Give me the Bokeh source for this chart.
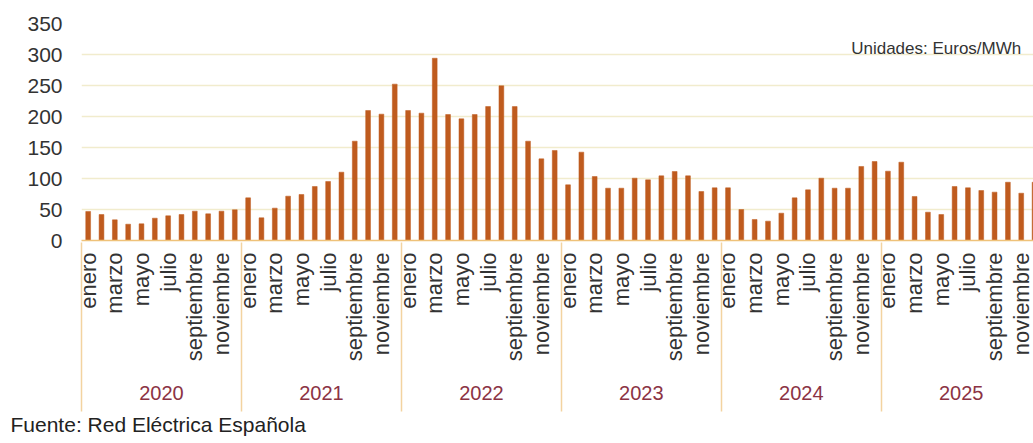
import math
from bokeh.plotting import figure
from bokeh.models import Range1d, FixedTicker, LinearAxis, Label, Title, ColumnDataSource
from bokeh.embed import file_html
from bokeh.resources import INLINE

# ---------------- data ----------------
years = ["2020", "2021", "2022", "2023", "2024", "2025"]
month_names = ["enero", "febrero", "marzo", "abril", "mayo", "junio", "julio",
               "agosto", "septiembre", "octubre", "noviembre", "diciembre"]
prices_2020 = [46.8, 41.9, 33.3, 26.3, 26.9, 36.0, 39.8, 41.9, 47.3, 43.0, 47.3, 49.5]
prices_2021 = [68.8, 36.6, 52.2, 71.5, 74.2, 87.1, 95.2, 110.2, 160.2, 209.7, 203.8, 252.2]
prices_2022 = [209.7, 205.4, 294.0, 203.2, 196.2, 203.2, 216.1, 249.5, 216.0, 160.2, 131.7, 145.2]
prices_2023 = [89.8, 142.5, 103.2, 84.4, 84.4, 100.5, 97.8, 104.3, 111.3, 104.3, 79.0, 85.0]
prices_2024 = [85.0, 50.0, 33.9, 31.2, 44.1, 68.8, 81.7, 100.5, 84.4, 84.4, 119.4, 127.4]
prices_2025 = [111.8, 126.3, 71.0, 45.7, 41.9, 87.1, 85.0, 80.6, 78.0, 94.0, 76.3, 94.0]
y_ticks = [0, 50, 100, 150, 200, 250, 300, 350]
unit_note = "Unidades: Euros/MWh"
source_note = "Fuente: Red Eléctrica Española"

prices = prices_2020 + prices_2021 + prices_2022 + prices_2023 + prices_2024 + prices_2025
idx = list(range(len(prices)))
src = ColumnDataSource(dict(x=idx, price=prices,
                            month=[month_names[i % 12] for i in idx],
                            year=[years[i // 12] for i in idx]))

FONT = "Liberation Sans"
BAR = "#BF5B1E"
GRID = "#F1ECCD"

p = figure(width=1033, height=443,
           x_range=Range1d(-0.5, 70.92), y_range=Range1d(0, 350),
           output_backend="svg", toolbar_location=None,
           x_axis_location=None,
           min_border_left=81, min_border_right=0,
           min_border_top=23, min_border_bottom=203)
p.outline_line_color = None
p.background_fill_color = "white"
p.border_fill_color = "white"

p.vbar(x="x", top="price", bottom=0, width=0.36, source=src,
       fill_color=BAR, line_color=BAR, line_width=0.5)

# y axis
p.yaxis.ticker = FixedTicker(ticks=y_ticks)
p.yaxis.axis_line_color = None
p.yaxis.major_tick_line_color = None
p.yaxis.minor_tick_line_color = None
p.yaxis.major_tick_out = 0
p.yaxis.major_label_standoff = 19
p.yaxis.major_label_text_font = FONT
p.yaxis.major_label_text_font_size = "21px"
p.yaxis.major_label_text_color = "#333333"

p.ygrid.ticker = FixedTicker(ticks=y_ticks)
p.ygrid.grid_line_color = GRID
p.ygrid.grid_line_width = 1.5
p.xgrid.grid_line_color = None

# month axis
month_ticks = [i for i in idx if i % 2 == 0]
month_axis = LinearAxis(
    ticker=FixedTicker(ticks=month_ticks, minor_ticks=[]),
    major_label_overrides={i: month_names[i % 12] for i in month_ticks},
    major_label_orientation=math.pi / 2,
    major_label_standoff=12,
    major_label_text_font=FONT,
    major_label_text_font_size="22px",
    major_label_text_color="#333333",
    major_tick_line_color=None, major_tick_out=0, major_tick_in=0,
    minor_tick_line_color=None, minor_tick_out=0, minor_tick_in=0,
    axis_line_color="#EFC27A", axis_line_width=1.5,
)
p.add_layout(month_axis, "below")

# year axis with separators as minor ticks
n_years = len(years)
year_centers = [k * 12 + 5.5 for k in range(n_years)]
year_bounds = [k * 12 - 0.5 for k in range(n_years)]
year_axis = LinearAxis(
    ticker=FixedTicker(ticks=year_centers, minor_ticks=year_bounds),
    major_label_overrides={c: y for c, y in zip(year_centers, years)},
    major_label_standoff=-26,
    major_label_text_font=FONT,
    major_label_text_font_size="20px",
    major_label_text_color="#8B3344",
    major_tick_line_color=None, major_tick_out=0, major_tick_in=0,
    minor_tick_line_color="#F3D3A0", minor_tick_line_width=1.5,
    minor_tick_in=122, minor_tick_out=47,
    axis_line_color=None,
)
p.add_layout(year_axis, "below")

p.add_layout(Label(x=70.0, y=310, text=unit_note, text_align="right",
                   text_baseline="middle", text_font=FONT,
                   text_font_size="17px", text_color="#333333"))

p.add_layout(Title(text=source_note, align="left", offset=-71,
                   text_font=FONT, text_font_size="21px",
                   text_font_style="normal", text_color="#222222",
                   standoff=16), "below")

open("out.html", "w").write(file_html(p, INLINE))
